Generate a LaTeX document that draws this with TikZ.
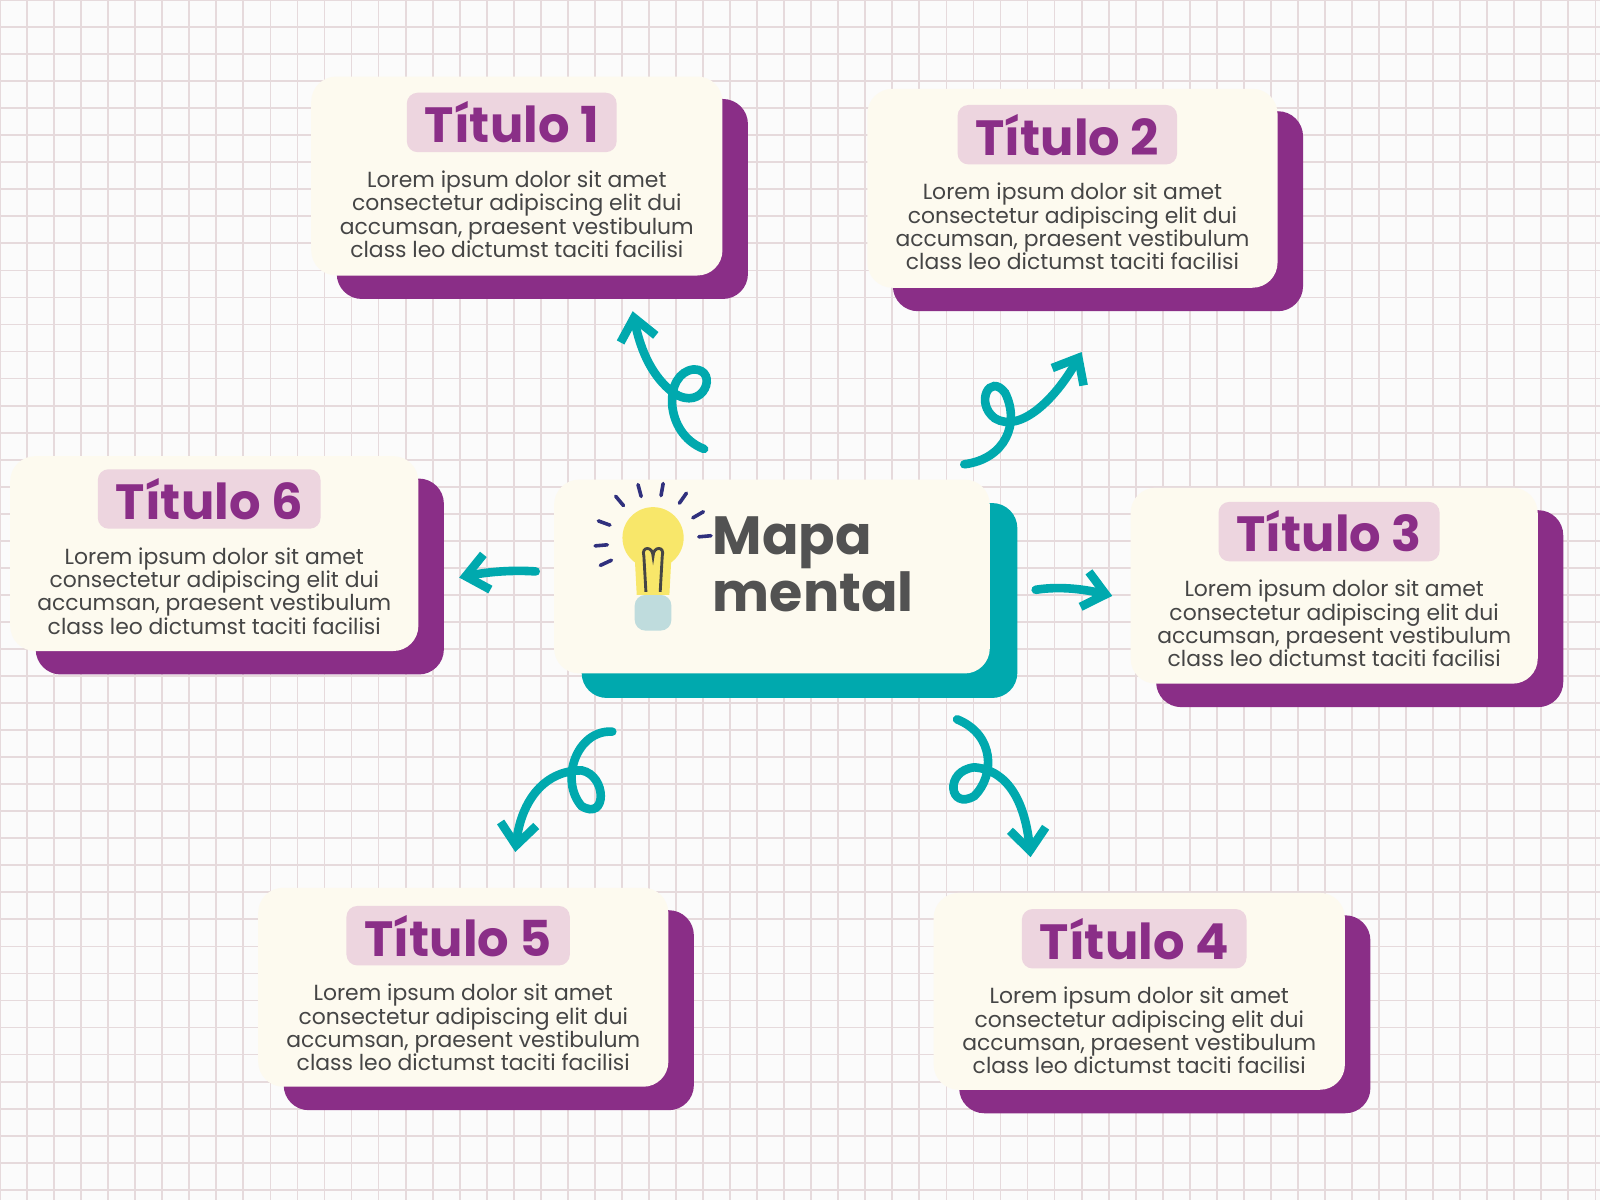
\documentclass[tikz,border=0pt]{standalone}
\usepackage{fontspec}
\setmainfont{Poppins}
\usetikzlibrary{arrows.meta}
\definecolor{cream}{HTML}{FDFAEF}
\definecolor{purp}{HTML}{8A2E87}
\definecolor{teal}{HTML}{00A9AE}
\definecolor{pinkl}{HTML}{EDD5DF}
\definecolor{gridc}{HTML}{E6DADC}
\definecolor{txt}{HTML}{454545}
\definecolor{bulb}{HTML}{F8E76A}
\definecolor{bulbb}{HTML}{BFDCDD}
\tikzset{
 cbox/.style={fill=cream,rounded corners=7pt},
 sbox/.style={fill=purp,rounded corners=7pt},
 ttl/.style={fill=pinkl,rounded corners=3pt,text=purp,font=\fontsize{13.8}{14}\selectfont\bfseries,inner xsep=5pt,inner ysep=2.5pt},
 body/.style={text=txt,align=center,font=\fontsize{6.1}{6.5}\selectfont,inner sep=0},
 arr/.style={teal,line width=2.4pt,line cap=round,-{Straight Barb[length=6pt,width=10pt]}},
}
\begin{document}
\begin{tikzpicture}[x=0.01cm,y=-0.01cm]
\useasboundingbox (0,0) rectangle (1568,1176);
\fill[white!97!gray] (0,0) rectangle (1568,1176);
\foreach \i in {0,...,60} {\draw[gridc,line width=0.5pt] (\i*26.5,0) -- (\i*26.5,1176);}
\foreach \i in {0,...,45} {\draw[gridc,line width=0.5pt] (0,\i*26.5) -- (1568,\i*26.5);}
% boxes
\newcommand{\mybox}[7]{% x1 y1 x2 y2 name title ty
 \fill[sbox] (#1+25,#2+22) rectangle (#3+25,#4+23);
 \fill[cbox] (#1,#2) rectangle (#3,#4);
 \node[ttl] (#5t) at ({(#1+#3)/2-5},#7) {#6};
 \node[body] (#5b) at ({(#1+#3)/2},#7+90) {Lorem ipsum dolor sit amet\\consectetur adipiscing elit dui\\accumsan, praesent vestibulum\\class leo dictumst taciti facilisi};
}
\mybox{305}{75}{708}{270}{a}{Título 1}{120}
\mybox{850}{87}{1252}{282}{b}{Título 2}{132}
\mybox{10}{447}{410}{638}{f}{Título 6}{489}
\mybox{1108}{478}{1507}{670}{c}{Título 3}{521}
\mybox{253}{870}{655}{1065}{e}{Título 5}{917}
\mybox{915}{875}{1318}{1068}{d}{Título 4}{920}
% center
\fill[teal,rounded corners=7pt] (570,493) rectangle (997,684);
\fill[cream,rounded corners=7pt] (543,470) rectangle (970,660);
\node[text=black!68,font=\fontsize{15}{14.5}\selectfont\bfseries,align=left,inner sep=0] (m) at (797,553) {Mapa\\mental};
% bulb
\fill[bulbb,rounded corners=3pt] (622,583) rectangle (658,618);
\fill[bulb] (640,527) circle (30);
\fill[bulb] (622,545) -- (658,545) -- (656,583) -- (624,583) -- cycle;
\draw[txt,line width=0.8pt] (633,580) -- (631,545) .. controls (628,535) and (640,535) .. (640,545) .. controls (640,535) and (652,535) .. (649,545) -- (647,580);
\foreach \a in {160,130,105,80,55,30,5,185,205}
 {\draw[txt!70!blue,line width=1pt,line cap=round] (640,530)++(-\a:45) -- ++(-\a:12);}
% arrows
\coordinate (p1) at (690,440); \coordinate (q1) at (620,305);
\draw[arr] (p1) .. controls (650,425) and (650,365) .. (680,362) .. controls (705,362) and (690,405) .. (660,385) .. controls (640,370) and (628,345) .. (q1);
\coordinate (p2) at (945,455); \coordinate (q2) at (1060,345);
\draw[arr] (p2) .. controls (985,450) and (1000,415) .. (985,385) .. controls (970,365) and (955,395) .. (975,410) .. controls (1000,425) and (1035,390) .. (q2);
\coordinate (p6) at (525,560); \coordinate (q6) at (450,566);
\draw[arr] (p6) .. controls (495,558) and (470,562) .. (q6);
\coordinate (p3) at (1015,578); \coordinate (q3) at (1090,584);
\draw[arr] (p3) .. controls (1040,574) and (1065,578) .. (q3);
\coordinate (p5) at (600,717); \coordinate (q5) at (505,835);
\draw[arr] (p5) .. controls (565,715) and (548,765) .. (570,790) .. controls (595,805) and (595,760) .. (570,755) .. controls (530,755) and (510,790) .. (q5);
\coordinate (p4) at (938,705); \coordinate (q4) at (1010,840);
\draw[arr] (p4) .. controls (975,720) and (975,760) .. (955,780) .. controls (930,795) and (925,755) .. (955,752) .. controls (990,755) and (1005,790) .. (q4);
\end{tikzpicture}
\end{document}
